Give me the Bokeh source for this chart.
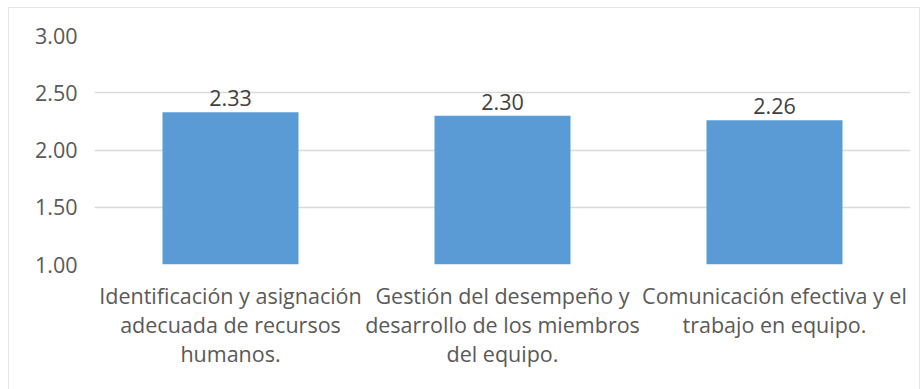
from bokeh.plotting import figure
from bokeh.models import Range1d, FixedTicker, NumeralTickFormatter, ColumnDataSource
from bokeh.core.properties import value
from bokeh.embed import file_html
from bokeh.resources import INLINE

categories = [
    "Identificación y asignación\nadecuada de recursos\nhumanos.",
    "Gestión del desempeño y\ndesarrollo de los miembros\ndel equipo.",
    "Comunicación efectiva y el\ntrabajo en equipo.",
]
values = [2.33, 2.30, 2.26]
y_ticks = [1.0, 1.5, 2.0, 2.5, 3.0]

FONT = "Open Sans"
TXT = "#595959"
FS = "21.5px"

xs = list(range(len(categories)))
src = ColumnDataSource(dict(x=xs, top=values, label=[f"{v:.2f}" for v in values]))

p = figure(width=912, height=382, output_backend="svg", toolbar_location=None,
           x_range=Range1d(-0.5, len(categories) - 0.5), y_range=Range1d(1.0, 3.0),
           min_border_left=85, min_border_right=11, min_border_top=27, min_border_bottom=126)
p.margin = (7, 0, 0, 8)
p.styles = {"border-top": "1px solid #e6e6e6", "border-left": "1px solid #e6e6e6",
            "border-right": "1px solid #e6e6e6"}
p.outline_line_color = None
p.background_fill_color = "white"
p.border_fill_color = "white"

p.vbar(x="x", top="top", bottom=1.0, width=0.5, source=src,
       fill_color="#5b9bd5", line_color=None)
p.text(x="x", y="top", text="label", source=src, text_align="center",
       text_baseline="bottom", y_offset=-6, text_font=value(FONT),
       text_font_size=FS, text_color="#404040")

p.xgrid.grid_line_color = None
p.ygrid.grid_line_color = "#d9d9d9"
p.ygrid.grid_line_width = 1.5

p.yaxis.ticker = FixedTicker(ticks=y_ticks)
p.yaxis.formatter = NumeralTickFormatter(format="0.00")
p.xaxis.ticker = FixedTicker(ticks=xs)
p.xaxis.major_label_overrides = {i: c for i, c in zip(xs, categories)}

for ax in (p.xaxis, p.yaxis):
    ax.axis_line_color = None
    ax.major_tick_line_color = None
    ax.minor_tick_line_color = None
    ax.major_label_text_font = FONT
    ax.major_label_text_font_size = FS
    ax.major_label_text_color = TXT
    ax.major_label_text_line_height = 1.0
p.yaxis.major_label_standoff = 11
p.xaxis.major_label_standoff = 10

open("out.html", "w").write(file_html(p, INLINE))
